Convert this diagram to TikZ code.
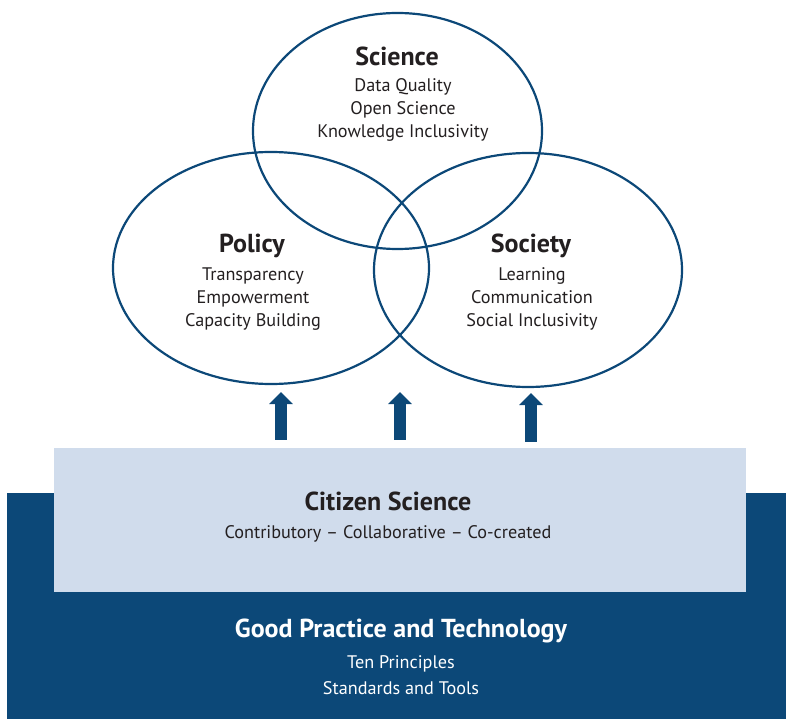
\documentclass[tikz,border=0pt]{standalone}
\usepackage{fontspec}
\setmainfont{PT Sans}
\usetikzlibrary{shapes.geometric,arrows.meta,positioning}
\definecolor{darkcol}{RGB}{12,72,120}
\definecolor{lightcol}{RGB}{208,220,236}
\definecolor{textcol}{RGB}{35,31,32}

\begin{document}
\begin{tikzpicture}[
  x=1pt, y=-1pt,
  every node/.style={font=\fontsize{18.2}{23}\selectfont, text=textcol},
  circ/.style={draw=darkcol, line width=2.2pt, ellipse, inner sep=0pt},
  head/.style={font=\fontsize{26}{28}\selectfont\bfseries},
  items/.style={align=center, inner sep=0pt},
  uparr/.style={-{Triangle[width=23pt,length=12pt]}, line width=12pt, darkcol}
]
\useasboundingbox (0,0) rectangle (786,719);

% ---------------- base boxes ----------------
\fill[darkcol] (7,493) rectangle (786,719);
\node[fill=lightcol, minimum width=692pt, minimum height=144pt, inner sep=0pt] (citizen) at (400,520) {};

\node[head] (cstitle) at (388,501) {Citizen Science};
\node[items] (cstypes) at (388,534) {Contributory -- Collaborative -- Co-created};

\node[head, text=white] (gptitle) at (401,631) {Good Practice and Technology};
\node[items, text=white] (gpitems) at (401,675) {Ten Principles\\[3pt]Standards and Tools};

% ---------------- three circles ----------------
\node[circ, minimum width=289pt, minimum height=236pt] (science) at (397.5,131) {};
\node[circ, minimum width=316pt, minimum height=232pt] (policy) at (271,268) {};
\node[circ, minimum width=308pt, minimum height=234pt] (society) at (528,270) {};

\node[head] (scitle) at (397,56) {Science};
\node[items] (scitems) at (403,110) {Data Quality\\Open Science\\Knowledge Inclusivity};

\node[head] (potitle) at (252,246) {Policy};
\node[items] (poitems) at (253,299) {Transparency\\Empowerment\\Capacity Building};

\node[head] (sotitle) at (531,246) {Society};
\node[items] (soitems) at (532,299) {Learning\\Communication\\Social Inclusivity};

% ---------------- arrows ----------------
\coordinate (a1) at (281,392);
\coordinate (a2) at (400,392);
\coordinate (a3) at (531,393);
\draw[uparr] (citizen.north -| a1) ++(0,-8) -- (a1);
\draw[uparr] (citizen.north -| a2) ++(0,-8) -- (a2);
\draw[uparr] (citizen.north -| a3) ++(0,-6) -- (a3);

\end{tikzpicture}
\end{document}
